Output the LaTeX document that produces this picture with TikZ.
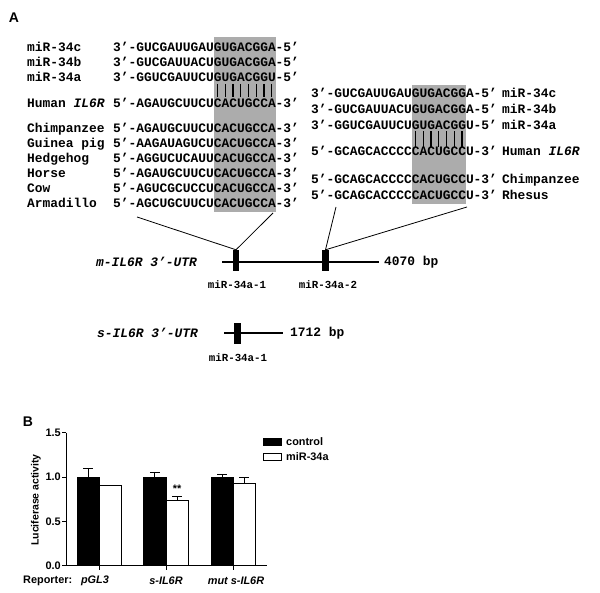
\documentclass[tikz,border=0pt]{standalone}
\usepackage{fontspec}
\setmainfont{Liberation Sans}
\newfontfamily\monof{Liberation Mono}
\newcommand\seqfnt{\monof\bfseries\fontsize{12.9}{14}\selectfont}
\newcommand\smfnt{\monof\bfseries\fontsize{10.8}{12}\selectfont}
\newcommand\chfnt{\bfseries\fontsize{10.9}{12}\selectfont}
\newcommand\cy[1]{565.7-88.7*#1}
\definecolor{boxgray}{RGB}{172,172,172}
\begin{document}
\begin{tikzpicture}[x=1pt,y=-1pt,
  seq/.style={font=\seqfnt, anchor=base west, inner sep=0pt},
  sml/.style={font=\smfnt, inner sep=0pt},
  chl/.style={font=\chfnt, inner sep=0pt},
  panel/.style={font=\bfseries\fontsize{14}{16}\selectfont, inner sep=0pt},
  siteblock/.style={fill=black, draw=none, minimum width=6.5pt, minimum height=21pt, inner sep=0pt},
  thin line/.style={line width=0.9pt},
  conn/.style={line width=0.8pt}]
\useasboundingbox (0,0) rectangle (600,593);
\fill[white] (0,0) rectangle (600,593);

% panel labels
\node[panel] (pA) at (14,18) {A};
\node[panel] (pB) at (28,422) {B};

% gray boxes
\fill[boxgray] (213.6,37) rectangle (275.5,212);
\fill[boxgray] (411.6,85) rectangle (466,204);

% ---------- left alignment ----------
\node[seq] (l1) at (27,51.8) {miR-34c};
\node[seq] (l2) at (27,66.3) {miR-34b};
\node[seq] (l3) at (27,81.3) {miR-34a};
\node[seq] (l4) at (27,107.3) {Human {\itshape IL6R}};
\node[seq] (l5) at (27,132.3) {Chimpanzee};
\node[seq] (l6) at (27,147.3) {Guinea pig};
\node[seq] (l7) at (27,162.3) {Hedgehog};
\node[seq] (l8) at (27,177.3) {Horse};
\node[seq] (l9) at (27,192.3) {Cow};
\node[seq] (l10) at (27,207.3) {Armadillo};

\node[seq] (s1) at (113,51.8) {3’-GUCGAUUGAUGUGACGGA-5’};
\node[seq] (s2) at (113,66.3) {3’-GUCGAUUACUGUGACGGA-5’};
\node[seq] (s3) at (113,81.3) {3’-GGUCGAUUCUGUGACGGU-5’};
\node[seq] (s4) at (113,107.3) {5’-AGAUGCUUCUCACUGCCA-3’};
\node[seq] (s5) at (113,132.3) {5’-AGAUGCUUCUCACUGCCA-3’};
\node[seq] (s6) at (113,147.3) {5’-AAGAUAGUCUCACUGCCA-3’};
\node[seq] (s7) at (113,162.3) {5’-AGGUCUCAUUCACUGCCA-3’};
\node[seq] (s8) at (113,177.3) {5’-AGAUGCUUCUCACUGCCA-3’};
\node[seq] (s9) at (113,192.3) {5’-AGUCGCUCCUCACUGCCA-3’};
\node[seq] (s10) at (113,207.3) {5’-AGCUGCUUCUCACUGCCA-3’};

\foreach \i in {13,...,20}
  \draw[line width=1.3pt] ({113+(\i+0.5)*7.74},84) -- ({113+(\i+0.5)*7.74},97.5);

% ---------- right alignment ----------
\node[seq] (r1) at (311,97.8) {3’-GUCGAUUGAUGUGACGGA-5’};
\node[seq] (r2) at (311,113.8) {3’-GUCGAUUACUGUGACGGA-5’};
\node[seq] (r3) at (311,129.3) {3’-GGUCGAUUCUGUGACGGU-5’};
\node[seq] (r4) at (311,155.8) {5’-GCAGCACCCCCACUGCCU-3’};
\node[seq] (r5) at (311,183.8) {5’-GCAGCACCCCCACUGCCU-3’};
\node[seq] (r6) at (311,199.8) {5’-GCAGCACCCCCACUGCCU-3’};

\node[seq] (rl1) at (502,97.8) {miR-34c};
\node[seq] (rl2) at (502,113.8) {miR-34b};
\node[seq] (rl3) at (502,129.3) {miR-34a};
\node[seq] (rl4) at (502,155.8) {Human {\itshape IL6R}};
\node[seq] (rl5) at (502,183.8) {Chimpanzee};
\node[seq] (rl6) at (502,199.8) {Rhesus};

\foreach \i in {13,...,19}
  \draw[line width=1.3pt] ({311+(\i+0.5)*7.74},131.5) -- ({311+(\i+0.5)*7.74},147.5);

% ---------- UTR maps ----------
\node[seq, anchor=east] (mlab) at (197,262) {\itshape m-IL6R 3’-UTR};
\coordinate (mL) at (222,262);
\coordinate (mR) at (379,262);
\draw[line width=1.2pt] (mL) -- (mR);
\node[siteblock] (b1) at (236,260.5) {};
\node[siteblock] (b2) at (325.5,260.5) {};
\node[seq, anchor=west] (mbp) at (384,262) {4070 bp};
\node[sml] (b1l) at (237,285) {miR-34a-1};
\node[sml] (b2l) at (328,285) {miR-34a-2};

\coordinate (c1a) at (137,217);
\coordinate (c1b) at (273,213);
\coordinate (c2a) at (336,207);
\coordinate (c2b) at (467,207);
\draw[conn] (c1a) -- (b1.north);
\draw[conn] (c1b) -- (b1.north);
\draw[conn] (c2a) -- (b2.north);
\draw[conn] (c2b) -- (b2.north);

\node[seq, anchor=east] (slab) at (198,333) {\itshape s-IL6R 3’-UTR};
\coordinate (sL) at (224,333);
\coordinate (sR) at (283,333);
\draw[line width=1.2pt] (sL) -- (sR);
\node[siteblock] (b3) at (237.5,333.5) {};
\node[seq, anchor=west] (sbp) at (290,333) {1712 bp};
\node[sml] (b3l) at (238,358) {miR-34a-1};

% ---------- bar chart ----------
\draw[line width=0.8pt] (66,{\cy{1.5}}) -- (66,{\cy{0}}) -- (267,{\cy{0}});
\foreach \v in {0,0.5,1.0,1.5} {
  \draw[line width=0.8pt] (62,{\cy{\v}}) -- (66,{\cy{\v}});
}
\node[chl, anchor=east] (t15) at (61,{\cy{1.5}}) {1.5};
\node[chl, anchor=east] (t10) at (61,{\cy{1.0}}) {1.0};
\node[chl, anchor=east] (t05) at (61,{\cy{0.5}}) {0.5};
\node[chl, anchor=east] (t00) at (61,{\cy{0}}) {0.0};
\foreach \x in {99.5,166,233}
  \draw[line width=0.8pt] (\x,{\cy{0}}) -- (\x,{\cy{0}+4});

\foreach \xl/\c/\ce/\m/\me in {77/1.0/1.10/0.90/0.91, 143.7/1.0/1.05/0.74/0.78, 211/1.0/1.03/0.93/0.99} {
  \draw[line width=0.8pt] ({\xl+11.15},{\cy{\c}}) -- ({\xl+11.15},{\cy{\ce}});
  \draw[line width=0.8pt] ({\xl+6.15},{\cy{\ce}}) -- ({\xl+16.15},{\cy{\ce}});
  \filldraw[fill=black, line width=0.8pt] (\xl,{\cy{0}}) rectangle ({\xl+22.3},{\cy{\c}});
  \draw[line width=0.8pt] ({\xl+33.45},{\cy{\m}}) -- ({\xl+33.45},{\cy{\me}});
  \draw[line width=0.8pt] ({\xl+28.45},{\cy{\me}}) -- ({\xl+38.45},{\cy{\me}});
  \filldraw[fill=white, line width=0.8pt] ({\xl+22.3},{\cy{0}}) rectangle ({\xl+44.6},{\cy{\m}});
}
\node[chl] (stars) at (177,488.5) {**};

% legend
\filldraw[fill=black, line width=0.8pt] (263.5,438) rectangle (281.5,445.5);
\node[chl, anchor=west] (lc) at (286,441.5) {control};
\filldraw[fill=white, line width=0.8pt] (263.5,453) rectangle (281.5,460);
\node[chl, anchor=west] (lm) at (286,456.5) {miR-34a};

\node[chl, rotate=90, font=\bfseries\fontsize{10.5}{12}\selectfont] (ylab) at (36,500) {Luciferase activity};

\node[chl, anchor=west] (rep) at (23,581) {Reporter:};
\node[chl] (x1) at (95,581) {\itshape pGL3};
\node[chl] (x2) at (166,581) {\itshape s-IL6R};
\node[chl] (x3) at (236,581) {\itshape mut s-IL6R};
\end{tikzpicture}
\end{document}
